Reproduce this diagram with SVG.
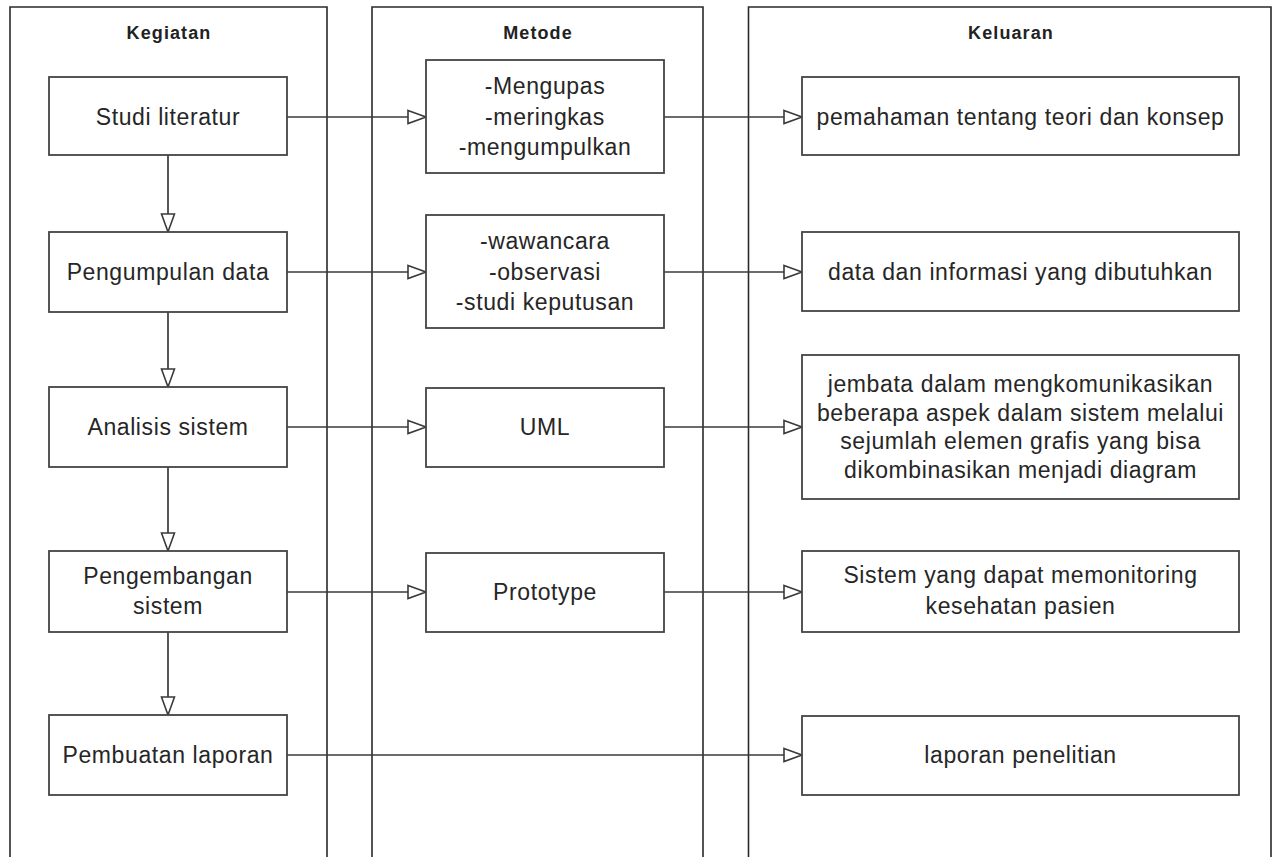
<svg xmlns="http://www.w3.org/2000/svg" width="1281" height="857" viewBox="0 0 1281 857">
  <style>
    .lane { fill: none; stroke: #2a2a2a; stroke-width: 1.6; }
    .box { fill: #ffffff; stroke: #444444; stroke-width: 1.8; }
    .conn { fill: none; stroke: #3a3a3a; stroke-width: 1.7; }
    .hdr { font-family: "Liberation Sans", Arial, sans-serif; font-weight: bold; font-size: 18px; letter-spacing: 1.1px; fill: #222222; text-anchor: middle; }
    .t { font-family: "Liberation Sans", Arial, sans-serif; font-size: 23px; letter-spacing: 0.6px; fill: #262626; text-anchor: middle; }
  </style>
  <defs>
    <marker id="tri" markerUnits="userSpaceOnUse" markerWidth="22" markerHeight="17" refX="19" refY="7.5" orient="auto" overflow="visible">
      <path d="M1,1 L19,7.5 L1,14 Z" fill="#ffffff" stroke="#3a3a3a" stroke-width="1.6" stroke-linejoin="miter"/>
    </marker>
  </defs>
  <rect x="0" y="0" width="1281" height="857" fill="#ffffff"/>

  <g id="lanes">
    <path class="lane" d="M10,857 V7 H327 V857"/>
    <path class="lane" d="M372,857 V7 H703 V857"/>
    <path class="lane" d="M748.5,857 V7 H1271 V857"/>
    <text class="hdr" x="169" y="39">Kegiatan</text>
    <text class="hdr" x="538" y="39">Metode</text>
    <text class="hdr" x="1011" y="39">Keluaran</text>
  </g>

  <g id="connectors">
    <line class="conn" x1="287" y1="117" x2="426" y2="117" marker-end="url(#tri)"/>
    <line class="conn" x1="664" y1="117" x2="802" y2="117" marker-end="url(#tri)"/>
    <line class="conn" x1="287" y1="272" x2="426" y2="272" marker-end="url(#tri)"/>
    <line class="conn" x1="664" y1="272" x2="802" y2="272" marker-end="url(#tri)"/>
    <line class="conn" x1="287" y1="427" x2="426" y2="427" marker-end="url(#tri)"/>
    <line class="conn" x1="664" y1="427" x2="802" y2="427" marker-end="url(#tri)"/>
    <line class="conn" x1="287" y1="592" x2="426" y2="592" marker-end="url(#tri)"/>
    <line class="conn" x1="664" y1="592" x2="802" y2="592" marker-end="url(#tri)"/>
    <line class="conn" x1="287" y1="755" x2="802" y2="755" marker-end="url(#tri)"/>
    <line class="conn" x1="168" y1="155" x2="168" y2="232" marker-end="url(#tri)"/>
    <line class="conn" x1="168" y1="312" x2="168" y2="387" marker-end="url(#tri)"/>
    <line class="conn" x1="168" y1="467" x2="168" y2="551" marker-end="url(#tri)"/>
    <line class="conn" x1="168" y1="632" x2="168" y2="715" marker-end="url(#tri)"/>
  </g>

  <g id="k1"><rect class="box" x="49" y="77" width="238" height="78"/><text class="t" x="168" y="125">Studi literatur</text></g>
  <g id="k2"><rect class="box" x="49" y="232" width="238" height="80"/><text class="t" x="168" y="280">Pengumpulan data</text></g>
  <g id="k3"><rect class="box" x="49" y="387" width="238" height="80"/><text class="t" x="168" y="435">Analisis sistem</text></g>
  <g id="k4"><rect class="box" x="49" y="551" width="238" height="81"/><text class="t" x="168" y="584">Pengembangan</text><text class="t" x="168" y="614">sistem</text></g>
  <g id="k5"><rect class="box" x="49" y="715" width="238" height="80"/><text class="t" x="168" y="763">Pembuatan laporan</text></g>

  <g id="m1"><rect class="box" x="426" y="60" width="238" height="113"/><text class="t" x="545" y="94">-Mengupas</text><text class="t" x="545" y="124.5">-meringkas</text><text class="t" x="545" y="155">-mengumpulkan</text></g>
  <g id="m2"><rect class="box" x="426" y="215" width="238" height="113"/><text class="t" x="545" y="249">-wawancara</text><text class="t" x="545" y="279.5">-observasi</text><text class="t" x="545" y="310">-studi keputusan</text></g>
  <g id="m3"><rect class="box" x="426" y="388" width="238" height="79"/><text class="t" x="545" y="435">UML</text></g>
  <g id="m4"><rect class="box" x="426" y="553" width="238" height="79"/><text class="t" x="545" y="600">Prototype</text></g>

  <g id="o1"><rect class="box" x="802" y="77" width="437" height="78"/><text class="t" x="1020.5" y="125">pemahaman tentang teori dan konsep</text></g>
  <g id="o2"><rect class="box" x="802" y="232" width="437" height="79"/><text class="t" x="1020.5" y="279.5">data dan informasi yang dibutuhkan</text></g>
  <g id="o3"><rect class="box" x="802" y="355" width="437" height="144"/><text class="t" x="1020.5" y="392">jembata dalam mengkomunikasikan</text><text class="t" x="1020.5" y="420.5">beberapa aspek dalam sistem melalui</text><text class="t" x="1020.5" y="449">sejumlah elemen grafis yang bisa</text><text class="t" x="1020.5" y="477.5">dikombinasikan menjadi diagram</text></g>
  <g id="o4"><rect class="box" x="802" y="551" width="437" height="81"/><text class="t" x="1020.5" y="583">Sistem yang dapat memonitoring</text><text class="t" x="1020.5" y="614">kesehatan pasien</text></g>
  <g id="o5"><rect class="box" x="802" y="716" width="437" height="79"/><text class="t" x="1020.5" y="763">laporan penelitian</text></g>
</svg>
